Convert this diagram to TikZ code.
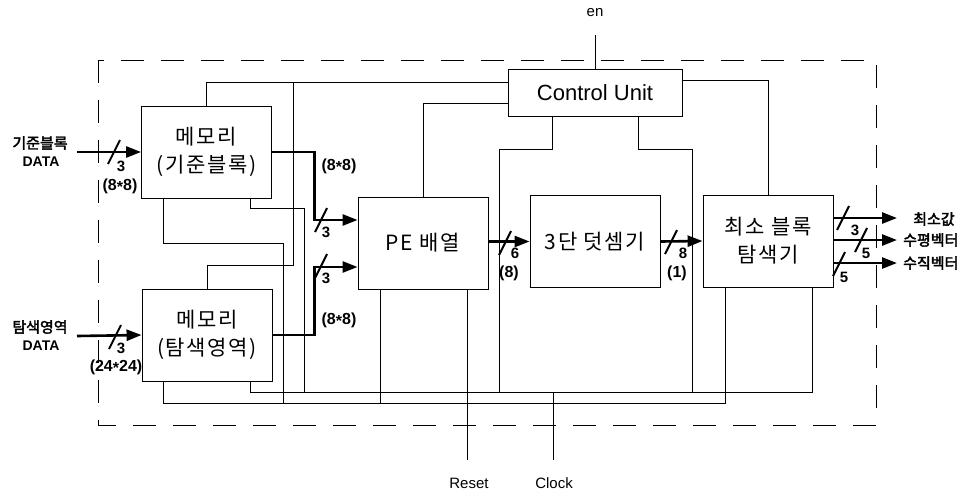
\documentclass[tikz,border=0pt]{standalone}
\usepackage{fontspec}
\setmainfont{Liberation Sans}
\newfontfamily\kr{Noto Sans CJK KR}[FakeBold=2.5]
\newfontfamily\krbox{Noto Sans CJK KR}[LetterSpace=8]
\usetikzlibrary{arrows.meta,calc,positioning}
\tikzset{block/.style={draw, line width=0.9pt, minimum width=130pt, minimum height=92pt, inner sep=2pt, align=center, font=\krbox\fontsize{21}{28}\selectfont}}
\tikzset{wire/.style={line width=0.9pt}}
\tikzset{arrow/.style={line width=2.6pt, -{Triangle[length=15pt,width=11pt]}}}
\tikzset{cut/.style={line width=2pt}}
\tikzset{num/.style={font=\bfseries\fontsize{15}{15}\selectfont, inner sep=0pt}}
\tikzset{size/.style={font=\bfseries\fontsize{16}{16}\selectfont, inner sep=0pt}}
\tikzset{pin/.style={font=\fontsize{15}{15}\selectfont, inner sep=0pt}}
\tikzset{side/.style={font=\kr\fontsize{15}{15}\selectfont, inner sep=0pt}}
\newcommand{\buscut}[1]{\draw[cut] ($#1+(-6,12)$) -- ($#1+(6,-12)$);}
\newcommand{\mul}{\raisebox{-0.3ex}{*}}

\begin{document}
\begin{tikzpicture}[x=1pt, y=-1pt]
  \useasboundingbox (0,0) rectangle (968,496);

  % Blocks
  \node[block] (mem1) at (206.5,152) {메모리\\(기준블록)};
  \node[block] (mem2) at (207,335) {메모리\\(탐색영역)};
  \node[block, minimum width=174pt, minimum height=47pt, font=\fontsize{22}{22}\selectfont] (cu) at (595,92.5) {Control Unit};
  \node[block] (pe) at (423,243) {PE 배열};
  \node[block] (add) at (595,241.5) {3단 덧셈기};
  \node[block] (minb) at (768,241) {최소 블록\\탐색기};

  % Boundary
  \draw[line width=0.9pt, dash pattern=on 23pt off 17pt] (98,60) rectangle (876,425);

  % Pins and labels
  \node[pin] (en) at (595,13) {en};
  \node[pin] (reset) at (469,483) {Reset};
  \node[pin] (clock) at (554,483) {Clock};
  \coordinate (enpin) at (595,35);
  \coordinate (resetpin) at (467,460);
  \coordinate (clockpin) at (553,460);
  \coordinate (clocktap) at (553,392);

  \node[side] (in1name) at (40,143) {기준블록};
  \node[pin, font=\bfseries\fontsize{14}{14}\selectfont] (in1data) at (41,162) {DATA};
  \node[side] (in2name) at (40,327) {탐색영역};
  \node[pin, font=\bfseries\fontsize{14}{14}\selectfont] (in2data) at (41,346) {DATA};
  \coordinate (in1) at (77,152);
  \coordinate (in2) at (77,336);

  \coordinate (out1) at (897,218);
  \coordinate (out2) at (897,240);
  \coordinate (out3) at (897,263);
  \node[side, anchor=west] (o1) at (913,219) {최소값};
  \node[side, anchor=west] (o2) at (903,240) {수평벡터};
  \node[side, anchor=west] (o3) at (903,263) {수직벡터};

  % Bus points
  \coordinate (tap1) at (293,82);
  \coordinate (hiR) at (812,392);
  \coordinate (loR) at (725,403);
  \coordinate (cu1) at ($(cu.south)+(-43,0)$);
  \coordinate (cu2) at ($(cu.south)+(43,0)$);
  \coordinate (m1a) at ($(mem1.south)+(-43.5,0)$);
  \coordinate (m1b) at ($(mem1.south)+(43.5,0)$);
  \coordinate (m2a) at ($(mem2.south)+(-43.5,0)$);
  \coordinate (m2b) at ($(mem2.south)+(43.5,0)$);
  \coordinate (pe1) at ($(pe.south)+(-43,0)$);
  \coordinate (pe2) at ($(pe.south)+(44,0)$);
  \coordinate (mb1) at ($(minb.south)+(-43,0)$);
  \coordinate (mb2) at ($(minb.south)+(44,0)$);

  % Control wiring
  \draw[wire] ($(cu.west)+(0,-10.5)$) -| (mem1.north);
  \draw[wire] (tap1) |- ($(mem2.north)+(0,-23)$) -- (mem2.north);
  \draw[wire] ($(cu.west)+(0,10.5)$) -| (pe.north);
  \draw[wire] (cu1) -- ++(0,33) -| (hiR -| 499,0);
  \draw[wire] (cu2) -- ++(0,33) -| (hiR -| 692,0);
  \draw[wire] ($(cu.east)+(0,-12.5)$) -| (minb.north);
  \draw[wire] (enpin) -- (cu.north);

  % Buses
  \draw[wire] (m1a) -- ++(0,45) -| (loR -| 283,0);
  \draw[wire] (m1b) -- ++(0,10) -| (hiR -| 304,0);
  \draw[wire] (m2a) |- (loR) -- (mb1);
  \draw[wire] (m2b) |- (hiR) -- (mb2);
  \draw[wire] (pe1) -- (pe1 |- loR);
  \draw[wire] (pe2) -- (resetpin);
  \draw[wire] (clocktap) -- (clockpin);

  % Data paths
  \draw[arrow] (in1) -- (mem1.west);
  \draw[arrow] (in2) -- (mem2.west);
  \draw[arrow] (mem1.east) -| ($(pe.west)+(-43,-23)$) -- ($(pe.west)+(0,-23)$);
  \draw[arrow] (mem2.east) -| ($(pe.west)+(-43,24)$) -- ($(pe.west)+(0,24)$);
  \draw[arrow] (pe.east |- add.west) -- (add.west);
  \draw[arrow] (add.east) -- (minb.west);
  \draw[arrow] (minb.east |- out1) -- (out1);
  \draw[arrow] (minb.east |- out2) -- (out2);
  \draw[arrow] (minb.east |- out3) -- (out3);

  % Bus widths
  \buscut{(114,152)}
  \node[num] at (121,166) {3};
  \node[size] at (120,186) {(8\mul8)};
  \buscut{(115,337)}
  \node[num] at (121,348) {3};
  \node[size] at (116,367) {(24\mul24)};
  \buscut{(321,220)}
  \node[num] at (326,232) {3};
  \node[size] at (339,166) {(8\mul8)};
  \buscut{(321,266)}
  \node[num] at (326,278) {3};
  \node[size] at (339,320) {(8\mul8)};
  \buscut{(505,243)}
  \node[num] at (515,253) {6};
  \node[size] at (509,273) {(8)};
  \buscut{(671,242)}
  \node[num] at (683,253) {8};
  \node[size] at (677,273) {(1)};
  \buscut{(843,218)}
  \node[num] at (855,230) {3};
  \buscut{(861,240)}
  \node[num] at (866,253) {5};
  \buscut{(839,264)}
  \node[num] at (844,277) {5};
\end{tikzpicture}
\end{document}
